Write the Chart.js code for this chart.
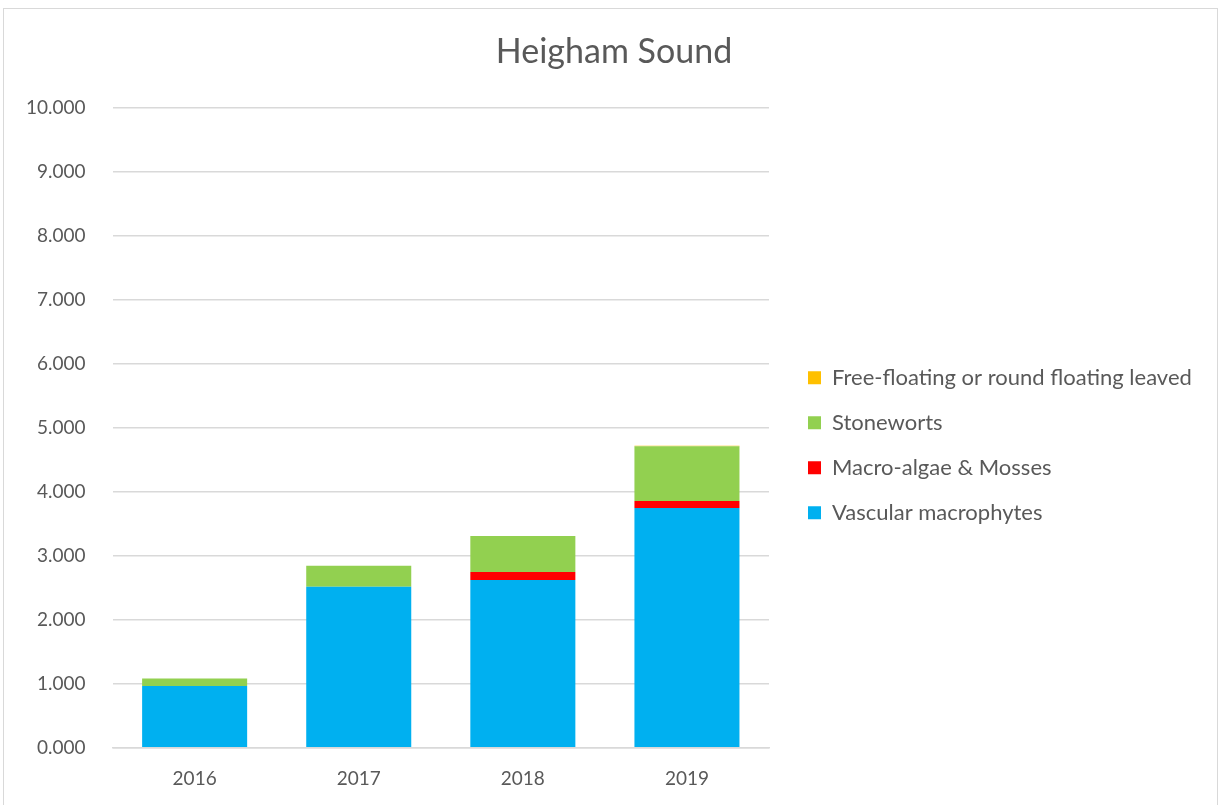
<!DOCTYPE html>
<html>
<head>
<meta charset="utf-8">
<script src="https://cdn.jsdelivr.net/npm/chart.js@4/dist/chart.umd.min.js"></script>
<style>
    body { margin: 0; background: #fff; }
    #box { position: absolute; left: 3px; top: 8px; width: 1215px; height: 800px; border: 1px solid #d9d9d9; box-sizing: border-box; }
    canvas { display: block; }
</style>
</head>
<body>
<div id="box"><canvas id="myChart" width="1213" height="798"></canvas></div>
<script>
// данные графика
const years = ['2016', '2017', '2018', '2019']
const vascular = [0.966, 2.514, 2.619, 3.745]
const macroAlgae = [0, 0, 0.125, 0.110]
const stoneworts = [0.116, 0.329, 0.563, 0.855]
const freeFloating = [0, 0, 0, 0.010]

const canvas = document.getElementById('myChart')
const ctx = canvas.getContext('2d')

const fontFamily = 'Lato, "Open Sans", sans-serif'
const textColor = '#595959'

// ширина легенды и сдвиги (легенда справа иначе обрезается)
const legendWidth = 438
const legendShiftX = 16
const legendShiftY = 28.5
const titleShiftX = 11

const layoutFix = {
    id: 'layoutFix',
    afterInit(chart) {
        const legend = chart.legend
        const origFit = legend.fit
        legend.fit = function () {
            origFit.call(this)
            this.width = legendWidth
        }
    },
    afterLayout(chart) {
        const legend = chart.legend
        legend.left += legendShiftX
        legend.right += legendShiftX
        legend.top += legendShiftY
        legend.bottom += legendShiftY
        chart.titleBlock.left += titleShiftX
        chart.titleBlock.right += titleShiftX
    }
}

function makeSet(label, values, color) {
    return {
        label: label,
        data: values,
        backgroundColor: color,
        borderWidth: 0,
        barPercentage: 0.64,
        categoryPercentage: 1
    }
}

const myChart = new Chart(ctx, {
    type: 'bar',
    data: {
        labels: years,
        datasets: [
            makeSet('Vascular macrophytes', vascular, '#00b0f0'),
            makeSet('Macro-algae & Mosses', macroAlgae, '#ff0000'),
            makeSet('Stoneworts', stoneworts, '#92d050'),
            makeSet('Free-floating or round floating leaved', freeFloating, '#ffc000')
        ]
    },
    plugins: [layoutFix],
    options: {
        responsive: false,
        animation: false,
        layout: { padding: { left: -5, right: 10, top: 23, bottom: 5.5 } },
        plugins: {
            title: {
                display: true,
                text: 'Heigham Sound',
                color: textColor,
                font: { family: fontFamily, size: 34, weight: 'normal' },
                padding: { top: 0, bottom: 35 }
            },
            legend: {
                position: 'right',
                reverse: true,
                labels: {
                    color: textColor,
                    font: { family: fontFamily, size: 22 },
                    boxWidth: 13,
                    boxHeight: 13,
                    padding: 23
                }
            },
            tooltip: { enabled: false }
        },
        scales: {
            x: {
                stacked: true,
                grid: { display: false },
                border: { color: '#d9d9d9', width: 1.5 },
                ticks: { color: textColor, font: { family: fontFamily, size: 19 }, padding: 11.5 }
            },
            y: {
                stacked: true,
                min: 0,
                max: 10,
                grid: { color: '#d9d9d9', lineWidth: 1.5, drawTicks: false },
                border: { display: false },
                ticks: {
                    stepSize: 1,
                    color: textColor,
                    font: { family: fontFamily, size: 19 },
                    padding: 27,
                    callback: v => v.toFixed(3)
                }
            }
        }
    }
})
</script>
</body>
</html>
